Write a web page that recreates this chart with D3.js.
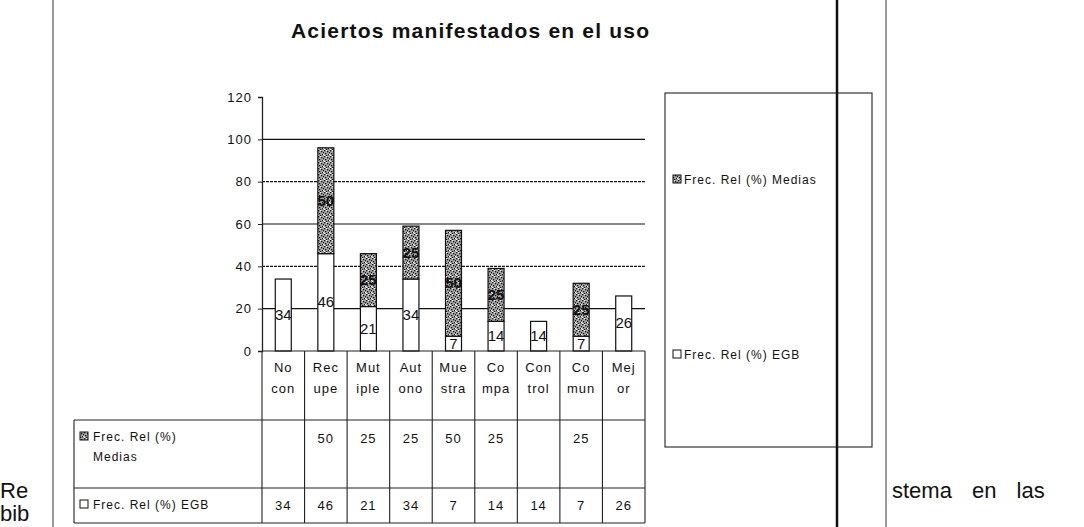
<!DOCTYPE html>
<html><head><meta charset="utf-8">
<script src="https://cdn.jsdelivr.net/npm/d3@7"></script>
<style>
html,body{margin:0;padding:0;background:#fff;}
svg{display:block;}
text{font-family:"Liberation Sans",Arial,sans-serif;fill:#111;}
</style></head>
<body>
<svg id="c" width="1084" height="527"></svg>
<script>
// ---- data ----
const categories = ["No con","Recupe","Mutiple","Autono","Muestra","Compa","Control","Comun","Mejor"];
const catLine1 = ["No","Rec","Mut","Aut","Mue","Co","Con","Co","Mej"];
const catLine2 = ["con","upe","iple","ono","stra","mpa","trol","mun","or"];
const seriesNames = ["Frec. Rel (%) Medias","Frec. Rel (%) EGB"];
const egb    = [34, 46, 21, 34, 7, 14, 14, 7, 26];
const medias = [null, 50, 25, 25, 50, 25, null, 25, null];
const yTicks = [0, 20, 40, 60, 80, 100, 120];
const title = "Aciertos manifestados en el uso";

const svg = d3.select("#c");
const defs = svg.append("defs");
const pat = defs.append("pattern").attr("id","stip").attr("patternUnits","userSpaceOnUse")
  .attr("width",6).attr("height",6);
pat.append("rect").attr("width",6).attr("height",6).attr("fill","#a8a8a8");
[[0,0],[3,1],[1,3],[4,4],[2,5],[5,2]].forEach(([a,b])=>{
  pat.append("rect").attr("x",a).attr("y",b).attr("width",1.3).attr("height",1.3).attr("fill","#111");
});
[[2,0],[5,4],[0,5]].forEach(([a,b])=>{
  pat.append("rect").attr("x",a).attr("y",b).attr("width",1).attr("height",1).attr("fill","#fff");
});

// page frame lines
svg.append("line").attr("x1",53).attr("x2",53).attr("y1",0).attr("y2",527).attr("stroke","#333").attr("stroke-width",1);
svg.append("line").attr("x1",886).attr("x2",886).attr("y1",0).attr("y2",527).attr("stroke","#333").attr("stroke-width",1);

// scales
const x = d3.scaleBand().domain(categories).range([262, 645]).padding(0);
const y = d3.scaleLinear().domain([0,120]).range([351, 97]);
const barW = 16;

// title
svg.append("text").attr("x",291).attr("y",38).attr("textLength",358).attr("lengthAdjust","spacing")
  .style("font-size","21px").style("font-weight","bold").text(title);

// gridlines
const grid = svg.append("g");
yTicks.filter(t=>t>0 && t<120).forEach(t=>{
  grid.append("line").attr("x1",262).attr("x2",645).attr("y1",y(t)).attr("y2",y(t))
    .attr("stroke","#111").attr("stroke-width",(t===80||t===40)?1.4:1.2)
    .attr("stroke-dasharray",(t===80||t===40)?"3,1":null);
});

// y axis
const yAxis = d3.axisLeft(y).tickValues(yTicks).tickSize(4).tickPadding(6);
const ga = svg.append("g").attr("transform","translate(262,0)").call(yAxis);
ga.select(".domain").attr("stroke","#222").attr("stroke-width",1.3);
ga.selectAll(".tick line").attr("stroke","#222");
ga.selectAll(".tick text").style("font-size","13px").style("letter-spacing","1px").attr("fill","#222")
  .style("font-family","'Liberation Sans',Arial,sans-serif");

// bars
const bars = svg.append("g");
categories.forEach((c,i)=>{
  const cx = x(c) + x.bandwidth()/2;
  const e = egb[i];
  bars.append("rect").attr("x",cx-barW/2).attr("y",y(e)).attr("width",barW).attr("height",y(0)-y(e))
    .attr("fill","#fff").attr("stroke","#111").attr("stroke-width",1.2);
  if (medias[i] != null) {
    const m = medias[i];
    bars.append("rect").attr("x",cx-barW/2).attr("y",y(e+m)).attr("width",barW).attr("height",y(e)-y(e+m))
      .attr("fill","url(#stip)").attr("stroke","#111").attr("stroke-width",1.2);
  }
});
// data labels
const lab = svg.append("g").style("font-size","15px").attr("text-anchor","middle");
categories.forEach((c,i)=>{
  const cx = x(c) + x.bandwidth()/2;
  lab.append("text").attr("x",cx).attr("y",y(egb[i]/2)+5).text(egb[i]);
  if (medias[i] != null)
    lab.append("text").attr("x",cx).attr("y",y(egb[i]+medias[i]/2)+5).style("font-weight","bold").text(medias[i]);
});

// data table
const tbl = svg.append("g").attr("stroke","#222").attr("stroke-width",1.1);
const rowTop = 351, rowMed = 420, rowEgb = 488, rowBot = 523, legL = 74;
tbl.append("line").attr("x1",262).attr("x2",645).attr("y1",rowTop).attr("y2",rowTop);
[rowMed,rowEgb,rowBot].forEach(yy=>tbl.append("line").attr("x1",legL).attr("x2",645).attr("y1",yy).attr("y2",yy));
tbl.append("line").attr("x1",legL).attr("x2",legL).attr("y1",rowMed).attr("y2",rowBot);
categories.forEach(c=>{
  tbl.append("line").attr("x1",x(c)).attr("x2",x(c)).attr("y1",rowTop).attr("y2",rowBot);
});
tbl.append("line").attr("x1",645).attr("x2",645).attr("y1",rowTop).attr("y2",rowBot);

const tt = svg.append("g").style("font-size","13px").style("letter-spacing","1px").attr("text-anchor","middle");
categories.forEach((c,i)=>{
  const cx = x(c) + x.bandwidth()/2;
  tt.append("text").attr("x",cx).attr("y",372).text(catLine1[i]);
  tt.append("text").attr("x",cx).attr("y",393).text(catLine2[i]);
  if (medias[i] != null) tt.append("text").attr("x",cx).attr("y",443).text(medias[i]);
  tt.append("text").attr("x",cx).attr("y",510).text(egb[i]);
});
// table legend keys
const tk = svg.append("g").style("font-size","12px").style("letter-spacing","1px");
tk.append("rect").attr("x",80).attr("y",432).attr("width",8).attr("height",8).attr("fill","url(#stip)").attr("stroke","#111");
tk.append("text").attr("x",93).attr("y",441).text("Frec. Rel (%)");
tk.append("text").attr("x",93).attr("y",461).text("Medias");
tk.append("rect").attr("x",80).attr("y",500).attr("width",8).attr("height",8).attr("fill","#fff").attr("stroke","#111");
tk.append("text").attr("x",93).attr("y",509).text(seriesNames[1]);

// legend box
const lg = svg.append("g");
lg.append("rect").attr("x",665).attr("y",93).attr("width",207).attr("height",354).attr("fill","none").attr("stroke","#222").attr("stroke-width",1.1);
const legY = [180, 355];
seriesNames.forEach((s,i)=>{
  lg.append("rect").attr("x",673).attr("y",legY[i]-5).attr("width",8).attr("height",8)
    .attr("fill", i===0 ? "url(#stip)" : "#fff").attr("stroke","#111");
  lg.append("text").attr("x",684).attr("y",legY[i]+4).style("font-size","12px").style("letter-spacing","1px").text(s);
});

// thick vertical line crossing the legend
svg.append("line").attr("x1",837).attr("x2",837).attr("y1",0).attr("y2",527).attr("stroke","#111").attr("stroke-width",2.5);

// surrounding document text
const doc = svg.append("g").style("font-size","22px");
doc.append("text").attr("x",0).attr("y",498).text("Re");
doc.append("text").attr("x",0).attr("y",521).text("bib");
doc.append("text").attr("x",892).attr("y",498).style("word-spacing","14px").text("stema en las");
</script>
</body></html>
